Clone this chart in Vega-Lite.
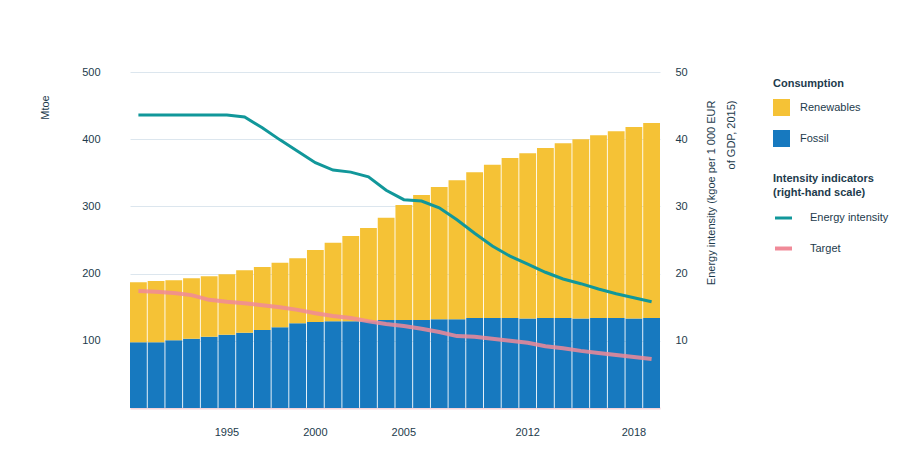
{
  "$schema": "https://vega.github.io/schema/vega-lite/v6.json",
  "width": 530,
  "height": 336,
  "autosize": {"type": "none"},
  "padding": {"left": 130, "top": 72, "right": 258, "bottom": 57},
  "background": "white",
  "config": {
    "font": "Liberation Sans",
    "view": {"stroke": null},
    "axis": {"labelFontSize": 11, "labelColor": "#1d3b4c", "titleColor": "#1d3b4c", "titleFontSize": 11, "titleFontWeight": "normal", "ticks": false, "domain": false}
  },
  "datasets": {
    "bars": [
      {"year": 1990, "source": "Fossil", "value": 98}, {"year": 1990, "source": "Renewables", "value": 89},
      {"year": 1991, "source": "Fossil", "value": 98}, {"year": 1991, "source": "Renewables", "value": 91},
      {"year": 1992, "source": "Fossil", "value": 101}, {"year": 1992, "source": "Renewables", "value": 89},
      {"year": 1993, "source": "Fossil", "value": 103}, {"year": 1993, "source": "Renewables", "value": 90},
      {"year": 1994, "source": "Fossil", "value": 106}, {"year": 1994, "source": "Renewables", "value": 90},
      {"year": 1995, "source": "Fossil", "value": 109}, {"year": 1995, "source": "Renewables", "value": 90},
      {"year": 1996, "source": "Fossil", "value": 112}, {"year": 1996, "source": "Renewables", "value": 93},
      {"year": 1997, "source": "Fossil", "value": 116}, {"year": 1997, "source": "Renewables", "value": 94},
      {"year": 1998, "source": "Fossil", "value": 120}, {"year": 1998, "source": "Renewables", "value": 96},
      {"year": 1999, "source": "Fossil", "value": 126}, {"year": 1999, "source": "Renewables", "value": 97},
      {"year": 2000, "source": "Fossil", "value": 128}, {"year": 2000, "source": "Renewables", "value": 107},
      {"year": 2001, "source": "Fossil", "value": 129}, {"year": 2001, "source": "Renewables", "value": 117},
      {"year": 2002, "source": "Fossil", "value": 129}, {"year": 2002, "source": "Renewables", "value": 127},
      {"year": 2003, "source": "Fossil", "value": 129}, {"year": 2003, "source": "Renewables", "value": 139},
      {"year": 2004, "source": "Fossil", "value": 131}, {"year": 2004, "source": "Renewables", "value": 152},
      {"year": 2005, "source": "Fossil", "value": 131}, {"year": 2005, "source": "Renewables", "value": 171},
      {"year": 2006, "source": "Fossil", "value": 131}, {"year": 2006, "source": "Renewables", "value": 186},
      {"year": 2007, "source": "Fossil", "value": 132}, {"year": 2007, "source": "Renewables", "value": 197},
      {"year": 2008, "source": "Fossil", "value": 132}, {"year": 2008, "source": "Renewables", "value": 207},
      {"year": 2009, "source": "Fossil", "value": 134}, {"year": 2009, "source": "Renewables", "value": 217},
      {"year": 2010, "source": "Fossil", "value": 134}, {"year": 2010, "source": "Renewables", "value": 228},
      {"year": 2011, "source": "Fossil", "value": 134}, {"year": 2011, "source": "Renewables", "value": 238},
      {"year": 2012, "source": "Fossil", "value": 133}, {"year": 2012, "source": "Renewables", "value": 246},
      {"year": 2013, "source": "Fossil", "value": 134}, {"year": 2013, "source": "Renewables", "value": 253},
      {"year": 2014, "source": "Fossil", "value": 134}, {"year": 2014, "source": "Renewables", "value": 260},
      {"year": 2015, "source": "Fossil", "value": 133}, {"year": 2015, "source": "Renewables", "value": 267},
      {"year": 2016, "source": "Fossil", "value": 134}, {"year": 2016, "source": "Renewables", "value": 272},
      {"year": 2017, "source": "Fossil", "value": 134}, {"year": 2017, "source": "Renewables", "value": 278},
      {"year": 2018, "source": "Fossil", "value": 133}, {"year": 2018, "source": "Renewables", "value": 285},
      {"year": 2019, "source": "Fossil", "value": 134}, {"year": 2019, "source": "Renewables", "value": 290}
    ],
    "lines": [
      {"year": 1990, "series": "Energy intensity", "value": 43.6}, {"year": 1990, "series": "Target", "value": 17.4},
      {"year": 1991, "series": "Energy intensity", "value": 43.6}, {"year": 1991, "series": "Target", "value": 17.3},
      {"year": 1992, "series": "Energy intensity", "value": 43.6}, {"year": 1992, "series": "Target", "value": 17.1},
      {"year": 1993, "series": "Energy intensity", "value": 43.6}, {"year": 1993, "series": "Target", "value": 16.8},
      {"year": 1994, "series": "Energy intensity", "value": 43.6}, {"year": 1994, "series": "Target", "value": 16.1},
      {"year": 1995, "series": "Energy intensity", "value": 43.6}, {"year": 1995, "series": "Target", "value": 15.8},
      {"year": 1996, "series": "Energy intensity", "value": 43.3}, {"year": 1996, "series": "Target", "value": 15.6},
      {"year": 1997, "series": "Energy intensity", "value": 41.7}, {"year": 1997, "series": "Target", "value": 15.3},
      {"year": 1998, "series": "Energy intensity", "value": 39.9}, {"year": 1998, "series": "Target", "value": 15.0},
      {"year": 1999, "series": "Energy intensity", "value": 38.2}, {"year": 1999, "series": "Target", "value": 14.6},
      {"year": 2000, "series": "Energy intensity", "value": 36.5}, {"year": 2000, "series": "Target", "value": 14.1},
      {"year": 2001, "series": "Energy intensity", "value": 35.4}, {"year": 2001, "series": "Target", "value": 13.7},
      {"year": 2002, "series": "Energy intensity", "value": 35.1}, {"year": 2002, "series": "Target", "value": 13.4},
      {"year": 2003, "series": "Energy intensity", "value": 34.4}, {"year": 2003, "series": "Target", "value": 12.9},
      {"year": 2004, "series": "Energy intensity", "value": 32.4}, {"year": 2004, "series": "Target", "value": 12.5},
      {"year": 2005, "series": "Energy intensity", "value": 31.0}, {"year": 2005, "series": "Target", "value": 12.2},
      {"year": 2006, "series": "Energy intensity", "value": 30.8}, {"year": 2006, "series": "Target", "value": 11.8},
      {"year": 2007, "series": "Energy intensity", "value": 29.8}, {"year": 2007, "series": "Target", "value": 11.3},
      {"year": 2008, "series": "Energy intensity", "value": 28.0}, {"year": 2008, "series": "Target", "value": 10.7},
      {"year": 2009, "series": "Energy intensity", "value": 26.0}, {"year": 2009, "series": "Target", "value": 10.6},
      {"year": 2010, "series": "Energy intensity", "value": 24.1}, {"year": 2010, "series": "Target", "value": 10.3},
      {"year": 2011, "series": "Energy intensity", "value": 22.6}, {"year": 2011, "series": "Target", "value": 10.0},
      {"year": 2012, "series": "Energy intensity", "value": 21.4}, {"year": 2012, "series": "Target", "value": 9.7},
      {"year": 2013, "series": "Energy intensity", "value": 20.2}, {"year": 2013, "series": "Target", "value": 9.2},
      {"year": 2014, "series": "Energy intensity", "value": 19.2}, {"year": 2014, "series": "Target", "value": 8.9},
      {"year": 2015, "series": "Energy intensity", "value": 18.5}, {"year": 2015, "series": "Target", "value": 8.5},
      {"year": 2016, "series": "Energy intensity", "value": 17.7}, {"year": 2016, "series": "Target", "value": 8.2},
      {"year": 2017, "series": "Energy intensity", "value": 17.0}, {"year": 2017, "series": "Target", "value": 7.9},
      {"year": 2018, "series": "Energy intensity", "value": 16.4}, {"year": 2018, "series": "Target", "value": 7.6},
      {"year": 2019, "series": "Energy intensity", "value": 15.8}, {"year": 2019, "series": "Target", "value": 7.3}
    ]
  },
  "layer": [
    {
      "data": {"name": "bars"},
      "mark": {"type": "bar"},
      "encoding": {
        "x": {
          "field": "year", "type": "ordinal",
          "scale": {"paddingInner": 0.05, "paddingOuter": 0},
          "axis": {"title": null, "labelAngle": 0, "values": [1995, 2000, 2005, 2012, 2018], "labelPadding": 18, "domain": true, "domainColor": "#f3d3da", "domainWidth": 2}
        },
        "y": {
          "field": "value", "type": "quantitative", "stack": "zero",
          "scale": {"domain": [0, 500], "nice": false},
          "axis": {"orient": "left", "values": [100, 200, 300, 400, 500], "grid": true, "gridColor": "#dce6ee", "labelPadding": 30, "title": "Mtoe", "titleAngle": -90, "titleX": -85, "titleY": 35, "titleAlign": "center", "titleBaseline": "middle"}
        },
        "color": {
          "field": "source", "type": "nominal",
          "scale": {"domain": ["Renewables", "Fossil"], "range": ["#f5c236", "#1779bf"]},
          "legend": {"title": "Consumption", "orient": "none", "legendX": 643, "legendY": 6, "symbolType": "square", "symbolSize": 289, "symbolStrokeWidth": 0, "rowPadding": 14, "titlePadding": 10, "labelOffset": 10, "labelFontSize": 11, "titleFontSize": 11, "labelColor": "#1d3b4c", "titleColor": "#1d3b4c"}
        },
        "order": {"field": "source", "sort": "ascending"}
      }
    },
    {
      "data": {"name": "lines"},
      "mark": {"type": "line"},
      "encoding": {
        "x": {"field": "year", "type": "ordinal"},
        "y": {
          "field": "value", "type": "quantitative",
          "scale": {"domain": [0, 50], "nice": false},
          "axis": {"orient": "right", "values": [10, 20, 30, 40, 50], "grid": false, "labelPadding": 15, "title": ["Energy intensity (kgoe per 1 000 EUR", "of GDP, 2015)"], "titleAngle": -90, "titleAlign": "right", "titleBaseline": "top", "titleX": 45, "titleY": 28, "titleLineHeight": 20}
        },
        "stroke": {
          "field": "series", "type": "nominal",
          "scale": {"domain": ["Energy intensity", "Target"], "range": ["#11979a", "#f08a98"]},
          "legend": {"title": ["Intensity indicators", "(right-hand scale)"], "orient": "none", "legendX": 643, "legendY": 101, "symbolType": "stroke", "symbolSize": 289, "symbolStrokeWidth": 3, "rowPadding": 14, "titlePadding": 10, "titleLineHeight": 14, "labelOffset": 16, "labelFontSize": 11, "titleFontSize": 11, "labelColor": "#1d3b4c", "titleColor": "#1d3b4c"}
        },
        "strokeWidth": {"field": "series", "type": "nominal", "scale": {"domain": ["Energy intensity", "Target"], "range": [3, 4]}, "legend": null},
        "strokeOpacity": {"field": "series", "type": "nominal", "scale": {"domain": ["Energy intensity", "Target"], "range": [1, 0.85]}, "legend": null}
      }
    }
  ],
  "resolve": {"scale": {"y": "independent"}}
}
